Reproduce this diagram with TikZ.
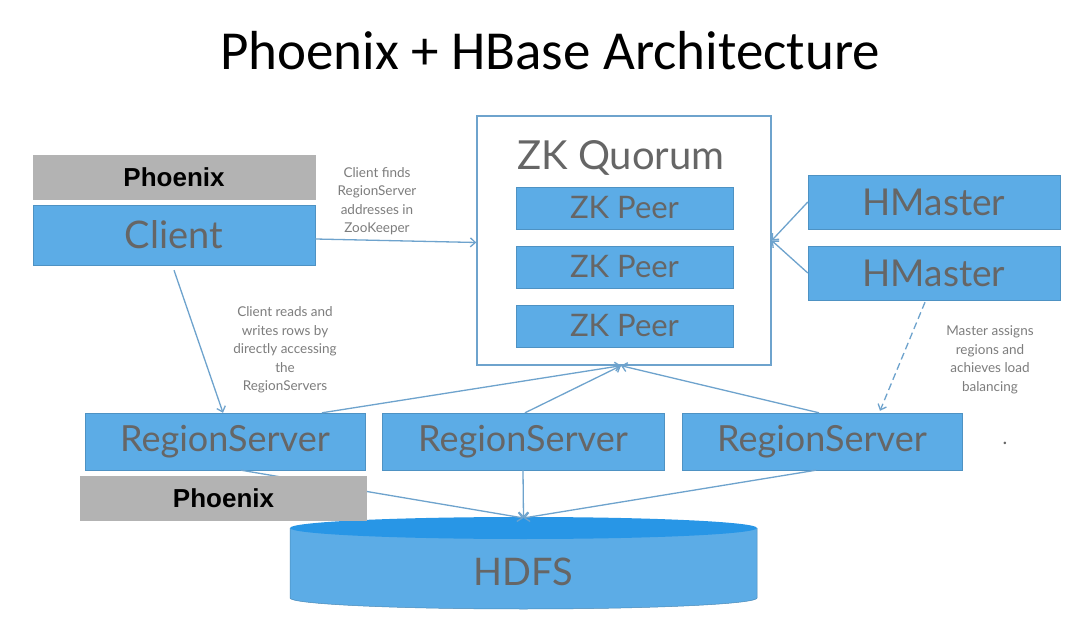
\documentclass[tikz,border=0pt]{standalone}
\usepackage{fontspec}
\setmainfont{Lato}
\newfontfamily\titlefont{Carlito}
\newfontfamily\arialfont{Liberation Sans}
\usetikzlibrary{arrows.meta,calc}
\definecolor{boxblue}{RGB}{92,172,230}
\definecolor{boxtext}{RGB}{102,102,102}
\definecolor{linkblue}{RGB}{110,163,205}
\definecolor{phxgray}{RGB}{179,179,179}
\definecolor{hdfstop}{RGB}{40,150,230}
\definecolor{labelgray}{RGB}{125,125,125}
\tikzset{
  bluebox/.style={rectangle, fill=boxblue, draw=boxblue!85!black, line width=0.4pt, text=boxtext, inner sep=0pt},
  phxbox/.style={rectangle, fill=phxgray, inner sep=0pt, font=\arialfont\bfseries\fontsize{26}{26}\selectfont, text=black},
  link/.style={draw=linkblue, line width=1.3pt, -{Straight Barb[length=5pt,width=9pt]}},
  lbl/.style={align=center, text=labelgray, font=\fontsize{13.5}{18.5}\selectfont, inner sep=0pt},
}
\begin{document}
\begin{tikzpicture}[x=1pt,y=-1pt]
\useasboundingbox (0,0) rectangle (1085,620);
\fill[white] (0,0) rectangle (1085,620);

\node[font=\titlefont\fontsize{55}{55}\selectfont] (title) at (550,51) {Phoenix + HBase Architecture};

% ZK Quorum
\node[rectangle, draw=linkblue, line width=1.4pt, fill=white, minimum width=294pt, minimum height=249pt] (zk) at (624,240.5) {};
\node[text=boxtext, font=\fontsize{40}{40}\selectfont] (zkt) at (621,158) {ZK Quorum};
\node[bluebox, minimum width=217pt, minimum height=42pt, font=\fontsize{31}{31}\selectfont] (p1) at (624.5,208) {ZK Peer};
\node[bluebox, minimum width=217pt, minimum height=42pt, font=\fontsize{31}{31}\selectfont] (p2) at (624.5,267) {ZK Peer};
\node[bluebox, minimum width=217pt, minimum height=42pt, font=\fontsize{31}{31}\selectfont] (p3) at (624.5,326) {ZK Peer};

% HMasters
\node[bluebox, minimum width=252pt, minimum height=54pt, font=\fontsize{37}{37}\selectfont] (hm1) at (934,202) {HMaster};
\node[bluebox, minimum width=252pt, minimum height=54pt, font=\fontsize{37}{37}\selectfont] (hm2) at (934,273) {HMaster};

% Client
\node[phxbox, minimum width=283pt, minimum height=45pt] (phx1) at (174,177.5) {Phoenix};
\node[bluebox, minimum width=282pt, minimum height=60pt, font=\fontsize{38}{38}\selectfont] (client) at (174,235) {Client};

% Region servers
\node[bluebox, minimum width=280pt, minimum height=57pt, font=\fontsize{36}{36}\selectfont] (rs1) at (225,441.5) {RegionServer};
\node[bluebox, minimum width=282pt, minimum height=57pt, font=\fontsize{36}{36}\selectfont] (rs2) at (523,441.5) {RegionServer};
\node[bluebox, minimum width=280pt, minimum height=57pt, font=\fontsize{36}{36}\selectfont] (rs3) at (822,441.5) {RegionServer};
\node[text=boxtext, font=\fontsize{20}{20}\selectfont, inner sep=0pt] (dot) at (1005,443) {.};

% HDFS cylinder
\fill[boxblue] (290,528) -- (290,598) arc[start angle=180, end angle=0, x radius=233.5, y radius=11] -- (757,528) -- cycle;
\draw[boxblue!80!black, line width=0.5pt] (290,528) -- (290,598) arc[start angle=180, end angle=0, x radius=233.5, y radius=11] -- (757,528);
\fill[hdfstop] (523.5,528) ellipse[x radius=233.5, y radius=11];
\coordinate (hdfsin) at (523.5,518);
\node[text=boxtext, font=\fontsize{38}{38}\selectfont] (hdfs) at (523.5,572) {HDFS};

% connectors
\draw[link] ([yshift=-4pt]client.east) -- ([yshift=-2pt]zk.west);
\draw[link] (hm1.west) -- (zk.east);
\draw[link] (hm2.west) -- (zk.east);
\draw[link] ([yshift=-5pt]client.south) -- ([xshift=-2pt]rs1.north);
\draw[link] ($(rs1.north)+(97,0)$) -- ([xshift=-3pt]zk.south);
\draw[link] ($(rs2.north)+(2,0)$) -- ([xshift=-3pt]zk.south);
\draw[link] ($(rs3.north)+(-3,0)$) -- ([xshift=-3pt]zk.south);
\draw[link, dashed, dash pattern=on 7pt off 4pt] ($(hm2.south)+(-9,2)$) -- ($(rs3.north)+(58,-2)$);
\draw[link] ($(rs1.south)+(16,0)$) -- (hdfsin);
\draw[link] (rs2.south) -- (hdfsin);
\draw[link] ($(rs3.south)+(-6,0)$) -- (hdfsin);

% Phoenix under RS1 (over the connector)
\node[phxbox, minimum width=287pt, minimum height=45pt] (phx2) at (223.5,498) {Phoenix};

% labels
\node[lbl] (l1) at (377,201) {Client finds\\RegionServer\\addresses in\\ZooKeeper};
\node[lbl] (l2) at (285,350) {Client reads and\\writes rows by\\directly accessing\\the\\RegionServers};
\node[lbl] (l3) at (990,360) {Master assigns\\regions and\\achieves load\\balancing};
\end{tikzpicture}
\end{document}
